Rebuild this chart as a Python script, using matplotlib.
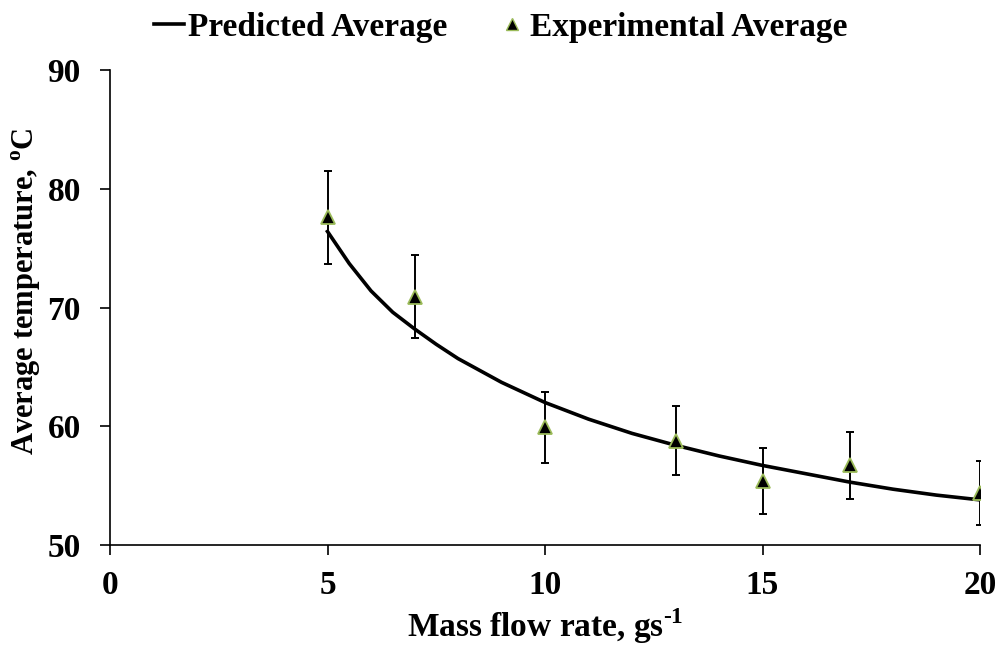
import matplotlib
matplotlib.use('Agg')
import matplotlib.pyplot as plt
from matplotlib.lines import Line2D

plt.rcParams['font.family'] = 'Liberation Serif'
plt.rcParams['font.weight'] = 'bold'
plt.rcParams['mathtext.fontset'] = 'custom'
plt.rcParams['mathtext.rm'] = 'Liberation Serif:bold'
plt.rcParams['mathtext.bf'] = 'Liberation Serif:bold'

# predicted curve
pred_x = [5, 5.5, 6, 6.5, 7, 7.5, 8, 9, 10, 11, 12, 13, 14, 15, 16, 17, 18, 19, 20]
pred_y = [76.4, 73.7, 71.4, 69.6, 68.2, 66.9, 65.7, 63.7, 62.0, 60.6, 59.4, 58.4,
          57.5, 56.7, 56.0, 55.3, 54.7, 54.2, 53.8]

# experimental averages with error bars
exp_x = [5, 7, 10, 13, 15, 17, 20]
exp_y = [77.6, 70.9, 59.9, 58.8, 55.4, 56.7, 54.4]
exp_err = [3.9, 3.5, 3.0, 2.9, 2.8, 2.8, 2.7]

green = '#9BBB59'
fs = 24

fig = plt.figure(figsize=(10.06, 6.5), dpi=100)
ax = fig.add_axes([110 / 1006, 1 - 545 / 650, 870 / 1006, 475 / 650])

ax.plot(pred_x, pred_y, '-', color='black', lw=2.6, solid_joinstyle='round', zorder=2)
ax.errorbar(exp_x, exp_y, yerr=exp_err, fmt='none', ecolor='black',
            elinewidth=1.4, capsize=2.8, capthick=1.4, zorder=3)
ax.plot(exp_x, exp_y, '^', color='black', markeredgecolor=green,
        markersize=10, markeredgewidth=1.3, linestyle='none', zorder=4)

ax.set_xlim(0, 20)
ax.set_ylim(50, 90)
ax.set_xticks([0, 5, 10, 15, 20])
ax.set_yticks([50, 60, 70, 80, 90])
ax.tick_params(direction='out', length=7, width=1.2, labelsize=fs)
ax.tick_params(axis='x', pad=11)
ax.tick_params(axis='y', pad=14)
for s in ['top', 'right']:
    ax.spines[s].set_visible(False)
for s in ['left', 'bottom']:
    ax.spines[s].set_linewidth(1.2)

ax.set_xlabel(r'Mass flow rate, gs$^{\text{-1}}$', fontsize=fs, fontweight='bold', labelpad=4)
ax.set_ylabel(r'Average temperature, $^{\mathrm{o}}$C', fontsize=22, fontweight='bold')
ax.yaxis.set_label_coords(-0.077, 0.535)

handles = [Line2D([], [], color='black', lw=2.6),
           Line2D([], [], marker='^', color='black', markeredgecolor=green,
                  markersize=8, markeredgewidth=1.0, linestyle='none')]
fig.legend(handles, ['Predicted Average', 'Experimental Average'],
           loc='center', bbox_to_anchor=(0.498, 0.958), ncol=2, frameon=False,
           fontsize=fs, handlelength=0.9, handletextpad=0.1, columnspacing=1.5,
           borderpad=0)

fig.savefig('out.png', dpi=100)
